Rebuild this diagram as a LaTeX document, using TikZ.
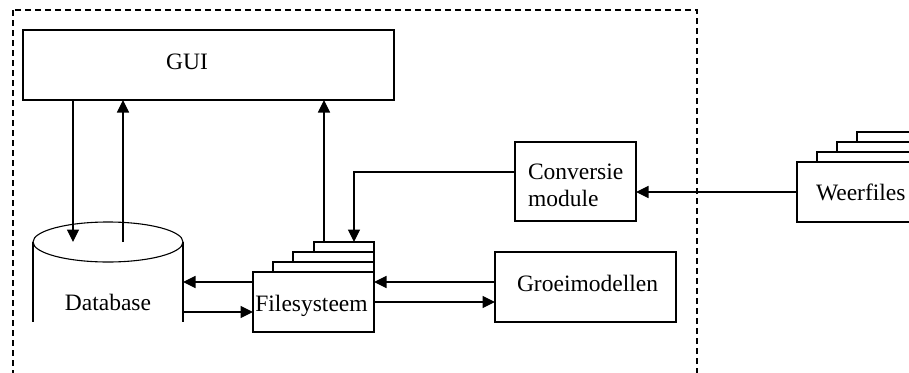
\documentclass[tikz,border=0pt]{standalone}
\usepackage{fontspec}
\setmainfont{Liberation Serif}
\usetikzlibrary{arrows.meta}
\tikzset{
  box/.style={draw, line width=1.1pt, inner sep=0pt, outer sep=0pt, rectangle},
  ghost/.style={inner sep=0pt, outer sep=0pt, rectangle},
  lbl/.style={inner sep=0pt, outer sep=0pt, font=\fontsize{23.5}{27}\selectfont},
  arr/.style={-{Triangle[length=12.5pt,width=12pt]}, line width=1.1pt},
  border/.style={line width=2pt, dash pattern=on 6pt off 4pt},
}
\begin{document}
\begin{tikzpicture}[x=1pt,y=-1pt]
\useasboundingbox (0,0) rectangle (909,372);
\clip (0,0) rectangle (909,372);
\fill[white] (0,0) rectangle (909,372);

% boundary
\draw[border] (13,10) rectangle (697,420);

% GUI
\node[box, minimum width=371pt, minimum height=70pt] (gui) at (208.5,65) {};
\node[lbl, anchor=base] (guit) at (187,69) {GUI};

% Database (open cylinder)
\node[ghost, minimum width=150pt, minimum height=80pt] (db) at (108,282) {};
\draw[line width=1.1pt] (db.north west) -- (db.south west)
                      (db.north east) -- (db.south east);
\draw[line width=1.1pt] (db.north) ellipse [x radius=75pt, y radius=20pt];
\node[lbl, anchor=base] (dbt) at (108,310) {Database};

% Filesysteem (stack)
\node[box, minimum width=121pt, minimum height=60pt] (fs) at (313.5,302) {};
\draw[line width=1.1pt] ([xshift=20pt]fs.north west) |- ([yshift=10pt]fs.north east) -- (fs.north east);
\draw[line width=1.1pt] ([xshift=40pt,yshift=10pt]fs.north west) |- ([yshift=20pt]fs.north east) -- ([yshift=10pt]fs.north east);
\draw[line width=1.1pt] ([xshift=61pt,yshift=20pt]fs.north west) |- ([yshift=30pt]fs.north east) -- ([yshift=20pt]fs.north east);
\coordinate (fs3) at ([xshift=61pt,yshift=30pt]fs.north west);
\node[lbl, anchor=base] (fst) at (311.5,311) {Filesysteem};

% Conversie module
\node[box, minimum width=121pt, minimum height=79pt] (conv) at (575.5,181.5) {};
\node[lbl, anchor=west, align=left] (convt) at (528,185) {Conversie\\module};

% Groeimodellen
\node[box, minimum width=181pt, minimum height=70pt] (groei) at (585.5,287) {};
\node[lbl, anchor=base] (groeit) at (587.5,291) {Groeimodellen};

% Weerfiles (stack)
\node[box, minimum width=123pt, minimum height=60pt] (weer) at (858.5,192) {};
\draw[line width=1.1pt] ([xshift=20pt]weer.north west) |- ([yshift=10pt]weer.north east) -- (weer.north east);
\draw[line width=1.1pt] ([xshift=40pt,yshift=10pt]weer.north west) |- ([yshift=20pt]weer.north east) -- ([yshift=10pt]weer.north east);
\draw[line width=1.1pt] ([xshift=60pt,yshift=20pt]weer.north west) |- ([yshift=30pt]weer.north east) -- ([yshift=20pt]weer.north east);
\node[lbl, anchor=base west] (weert) at (816,200) {Weerfiles};

% connectors
\draw[arr] ([xshift=50pt]gui.south west) -- ([xshift=40pt]db.north west);
\draw[arr] ([xshift=90pt]db.north west) -- ([xshift=100pt]gui.south west);
\coordinate (up3) at ([xshift=10pt]fs3);
\draw[arr] (up3) -- (up3 |- gui.south);
\coordinate (dn3) at ([xshift=40pt]fs3);
\draw[arr] ([yshift=9.5pt]conv.west) -| (dn3);
\draw[arr] (weer.west) -- (weer.west -| conv.east);
\draw[arr] ([yshift=20pt]fs.west) -- ([yshift=20pt]fs.west -| db.east);
\draw[arr] ([yshift=-30pt]db.east) -- ([yshift=-10pt]fs.west);
\draw[arr] ([yshift=5pt]groei.west) -- ([yshift=5pt]groei.west -| fs.east);
\draw[arr] (fs.east) -- (fs.east -| groei.west);
\end{tikzpicture}
\end{document}
